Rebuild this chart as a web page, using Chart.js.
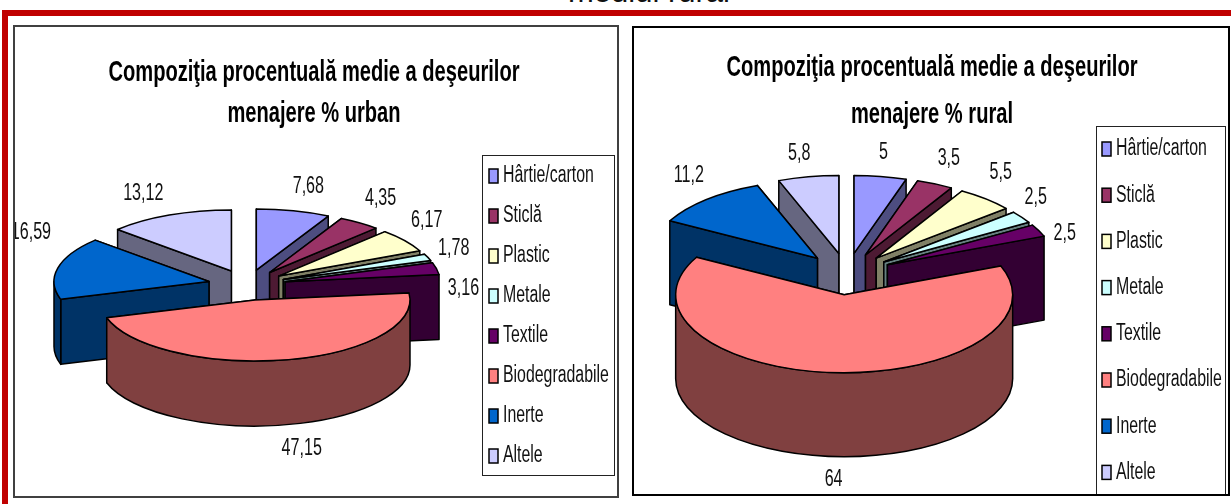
<!DOCTYPE html>
<html>
<head>
<meta charset="utf-8">
<script src="https://cdn.jsdelivr.net/npm/chart.js@4"></script>
<style>
  html, body { margin: 0; padding: 0; width: 1231px; height: 504px; overflow: hidden; background: #fff; }
  #heading { position: absolute; left: 0; width: 1298px; top: -24px; text-align: center; font: 31px "Liberation Sans", sans-serif; color: #111; line-height: 32px; white-space: nowrap; }
  #frame { position: absolute; left: 2px; top: 10px; width: 1300px; height: 600px; border-left: 6px solid #c00000; border-top: 6px solid #c00000; }
  .panel { position: absolute; background: #fff; }
  .panel canvas { display: block; }
  #urban-panel { left: 13px; top: 25px; border: 2px solid #404040; }
  #rural-panel { left: 632px; top: 26px; border: 2px solid #000; }
</style>
</head>
<body>
<div id="heading">mediul rural</div>
<div id="frame"></div>
<div class="panel" id="urban-panel"><canvas id="urban-chart" width="602" height="469"></canvas></div>
<div class="panel" id="rural-panel"><canvas id="rural-chart" width="594" height="466"></canvas></div>
<script>
const categories = ['Hârtie/carton', 'Sticlă', 'Plastic', 'Metale', 'Textile', 'Biodegradabile', 'Inerte', 'Altele'];
const urbanValues = [7.68, 4.35, 6.17, 1.78, 3.16, 47.15, 16.59, 13.12];
const ruralValues = [5, 3.5, 5.5, 2.5, 2.5, 64, 11.2, 5.8];
const urbanLabels = ['7,68', '4,35', '6,17', '1,78', '3,16', '47,15', '16,59', '13,12'];
const ruralLabels = ['5', '3,5', '5,5', '2,5', '2,5', '64', '11,2', '5,8'];
const urbanTitle = ['Compoziţia procentuală medie a deşeurilor', 'menajere % urban'];
const ruralTitle = ['Compoziţia procentuală medie a deşeurilor', 'menajere % rural'];
const sliceColors = ['#9999ff', '#993366', '#ffffcc', '#ccffff', '#660066', '#ff8080', '#0066cc', '#ccccff'];
const wallColors = ['#4d4d80', '#4d1a33', '#808066', '#668080', '#330033', '#804040', '#003366', '#666680'];

const FONT = '"Liberation Sans", sans-serif';

// the original type is a squeezed Arial, no narrow face here so fit it with maxWidth
function narrowText(ctx, text, x, y, k) {
  ctx.fillText(text, x, y, ctx.measureText(text).width * k);
}

// flattened, extruded pie: angles come from the arc elements, only the projection is done here
const pie3d = {
  id: 'pie3d',
  beforeDatasetsDraw(chart, args, o) {
    const ctx = chart.ctx;
    const arcs = chart.getDatasetMeta(0).data;
    const rx = arcs[0].outerRadius;
    const squash = o.ry / rx;
    const mid = a => (a.startAngle + a.endAngle) / 2;
    const apex = a => ({
      x: o.cx + Math.cos(mid(a)) * o.explode,
      y: o.cy + Math.sin(mid(a)) * o.explode * squash
    });
    const order = arcs.map((a, i) => i).sort((p, q) => Math.sin(mid(arcs[p])) - Math.sin(mid(arcs[q])));

    ctx.save();
    ctx.lineWidth = 1.5;
    ctx.lineJoin = 'round';
    ctx.strokeStyle = '#000';
    order.forEach(i => {
      const a = arcs[i];
      const p = apex(a);
      ctx.fillStyle = wallColors[i];
      // back wall first so it can't show through the front one
      [a.startAngle, a.endAngle].sort((s, t) => Math.sin(s) - Math.sin(t)).forEach(ang => {
        const ex = p.x + Math.cos(ang) * rx;
        const ey = p.y + Math.sin(ang) * o.ry;
        ctx.beginPath();
        ctx.moveTo(p.x, p.y);
        ctx.lineTo(ex, ey);
        ctx.lineTo(ex, ey + o.depth);
        ctx.lineTo(p.x, p.y + o.depth);
        ctx.closePath();
        ctx.fill();
        ctx.stroke();
      });
      const lo = Math.max(a.startAngle, 0);
      const hi = Math.min(a.endAngle, Math.PI);
      if (hi > lo) {
        ctx.beginPath();
        ctx.ellipse(p.x, p.y, rx, o.ry, 0, lo, hi);
        ctx.ellipse(p.x, p.y + o.depth, rx, o.ry, 0, hi, lo, true);
        ctx.closePath();
        ctx.fill();
        ctx.stroke();
      }
      ctx.fillStyle = sliceColors[i];
      ctx.beginPath();
      ctx.moveTo(p.x, p.y);
      ctx.ellipse(p.x, p.y, rx, o.ry, 0, a.startAngle, a.endAngle);
      ctx.closePath();
      ctx.fill();
      ctx.stroke();
    });

    // value labels sit just off the rim of each slice
    ctx.fillStyle = '#111';
    ctx.font = '23px ' + FONT;
    ctx.textAlign = 'center';
    ctx.textBaseline = 'middle';
    arcs.forEach((a, i) => {
      const p = apex(a);
      const m = mid(a);
      const lift = Math.sin(m) > 0 ? o.depth : 0;
      narrowText(ctx, o.labels[i], p.x + Math.cos(m) * rx + o.nudge[i][0], p.y + Math.sin(m) * o.ry + lift + o.nudge[i][1], 0.7);
    });
    ctx.restore();
    return false;
  },
  afterDraw(chart, args, o) {
    const ctx = chart.ctx;
    const b = o.legendBox;
    ctx.save();
    ctx.textBaseline = 'middle';

    ctx.fillStyle = '#000';
    ctx.textAlign = 'center';
    ctx.font = 'bold 30px ' + FONT;
    o.title.forEach((line, i) => narrowText(ctx, line, o.titleX, o.titleY[i], 0.67));

    ctx.strokeStyle = '#222';
    ctx.lineWidth = 1;
    ctx.strokeRect(b.x + 0.5, b.y + 0.5, b.w, b.h);
    ctx.textAlign = 'left';
    ctx.font = '23px ' + FONT;
    categories.forEach((name, i) => {
      const y = b.first + i * b.step;
      ctx.fillStyle = sliceColors[i];
      ctx.fillRect(b.markX, y - 7, 9, 14);
      ctx.strokeStyle = '#000';
      ctx.lineWidth = 1.5;
      ctx.strokeRect(b.markX, y - 7, 9, 14);
      ctx.fillStyle = '#111';
      narrowText(ctx, name, b.markX + 14, y, 0.69);
    });
    ctx.restore();
  }
};

function makeChart(id, values, pie) {
  return new Chart(document.getElementById(id), {
    type: 'pie',
    data: {
      labels: categories,
      datasets: [{ data: values, backgroundColor: sliceColors, borderColor: '#000', borderWidth: 1, radius: pie.rx }]
    },
    options: {
      responsive: false,
      animation: false,
      plugins: {
        legend: { display: false },
        tooltip: { enabled: false },
        pie3d: pie
      }
    },
    plugins: [pie3d]
  });
}

// canvas content starts 2px in from the panel box
makeChart('urban-chart', urbanValues, {
  cx: 232, cy: 258, rx: 155, ry: 61, depth: 65, explode: 39,
  title: urbanTitle, titleX: 299, titleY: [46, 87],
  labels: urbanLabels,
  nudge: [[15, -24], [21, -24], [22, -20], [26, -9], [27, 20], [15, 24], [-27, -35], [-26, -21]],
  legendBox: { x: 467, y: 128, w: 132, h: 320, markX: 474, first: 149, step: 40 }
});

makeChart('rural-chart', ruralValues, {
  cx: 213, cy: 246, rx: 168.5, ry: 78, depth: 84, explode: 45,
  title: ruralTitle, titleX: 298, titleY: [40, 87],
  labels: ruralLabels,
  nudge: [[3, -24], [14, -25], [15, -26], [14, -20], [26, 3], [0, 23], [-18, -24], [-9, -23]],
  legendBox: { x: 462, y: 98, w: 129, h: 380, markX: 468, first: 121, step: 46.2 }
});
</script>
</body>
</html>
